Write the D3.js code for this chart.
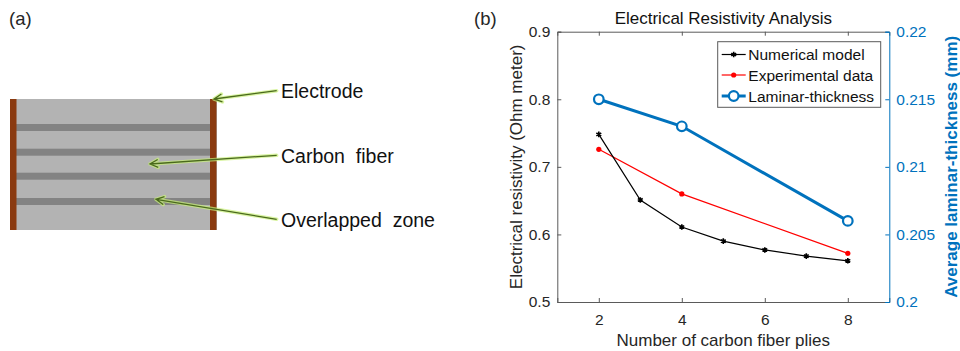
<!DOCTYPE html>
<meta charset="utf-8">
<html>
<head>
<style>
  body { margin: 0; background: #fff; }
  svg text { font-family: "Liberation Sans", Arial, sans-serif; }
</style>
</head>
<body>
<div id="chart"></div>
<script src="https://d3js.org/d3.v7.min.js"></script>
<script>
// data
var plies = [2, 3, 4, 5, 6, 7, 8];
var numerical = [0.748, 0.651, 0.611, 0.590, 0.577, 0.568, 0.561];
var expPlies = [2, 4, 8];
var experimental = [0.726, 0.660, 0.572];
var thickPlies = [2, 4, 8];
var thickness = [0.215, 0.213, 0.206];
var xTicks = [2, 4, 6, 8];
var yTicks = [0.5, 0.6, 0.7, 0.8, 0.9];
var y2Ticks = [0.2, 0.205, 0.21, 0.215, 0.22];
var legendNames = ["Numerical model", "Experimental data", "Laminar-thickness"];
var calloutNames = ["Electrode", "Carbon  fiber", "Overlapped  zone"];

var blue = "#0072BD", axisGray = "#5a5a5a", textCol = "#262626";

var svg = d3.select("#chart").append("svg")
  .attr("width", 960).attr("height", 351);

// ---------------- panel (a): schematic ----------------
svg.append("text").attr("x", 9).attr("y", 25).style("font-size", "18.5px")
  .attr("fill", textCol).text("(a)");

var pa = svg.append("g");
pa.append("rect").attr("x", 10).attr("y", 99).attr("width", 207).attr("height", 131)
  .attr("fill", "#b3b3b3");
// carbon fiber stripes
var stripeY = [124, 148.7, 172.7, 198];
pa.selectAll(".stripe").data(stripeY).enter().append("rect")
  .attr("x", 16).attr("y", function(d) { return d; })
  .attr("width", 194).attr("height", 7).attr("fill", "#838383");
// electrodes
pa.selectAll(".elec").data([10, 210]).enter().append("rect")
  .attr("x", function(d) { return d; }).attr("y", 99)
  .attr("width", 6.5).attr("height", 131).attr("fill", "#8a3a10");

// callouts with arrows
var callouts = [
  {from: [276.7, 90.7], to: [214, 99], ty: 98},
  {from: [276.7, 155.3], to: [150, 164], ty: 162.5},
  {from: [276.7, 219.3], to: [156, 199.3], ty: 226.5}
];
function arrowPath(c) {
  var dx = c.to[0] - c.from[0], dy = c.to[1] - c.from[1];
  var L = Math.sqrt(dx*dx + dy*dy), ux = dx/L, uy = dy/L;
  var h = 8, w = 4;
  var bx = c.to[0] - ux*h, by = c.to[1] - uy*h;
  return "M" + c.from + "L" + c.to +
    "M" + (bx - uy*w) + "," + (by + ux*w) + "L" + c.to + "L" + (bx + uy*w) + "," + (by - ux*w);
}
pa.selectAll(".glow").data(callouts).enter().append("path")
  .attr("d", arrowPath).attr("fill", "none")
  .attr("stroke", "#c9f07a").attr("stroke-width", 3.5).attr("stroke-opacity", 0.7)
  .attr("stroke-linejoin", "round").attr("stroke-linecap", "round");
pa.selectAll(".arr").data(callouts).enter().append("path")
  .attr("d", arrowPath).attr("fill", "none")
  .attr("stroke", "#4a6a1c").attr("stroke-width", 1.3);
pa.selectAll(".lab").data(callouts).enter().append("text")
  .attr("x", 281).attr("y", function(d) { return d.ty; })
  .style("font-size", "19.5px").attr("fill", "#111")
  .attr("xml:space", "preserve").style("white-space", "pre")
  .text(function(d, i) { return calloutNames[i]; });

// ---------------- panel (b): chart ----------------
svg.append("text").attr("x", 474).attr("y", 25).style("font-size", "18.5px")
  .attr("fill", textCol).text("(b)");

var L = 557.3, R = 889.3, T = 31.7, B = 302;
var x = d3.scaleLinear().domain([1, 9]).range([L, R]);
var y = d3.scaleLinear().domain([0.5, 0.9]).range([B, T]);
var y2 = d3.scaleLinear().domain([0.2, 0.22]).range([B, T]);

var g = svg.append("g");

// axes
g.append("g").attr("transform", "translate(0," + B + ")")
  .call(d3.axisBottom(x).tickValues(xTicks).tickSize(-4).tickPadding(12).tickFormat(d3.format("d")))
  .call(function(a) {
    a.select(".domain").attr("stroke", axisGray);
    a.selectAll("line").attr("stroke", axisGray);
    a.selectAll("text").attr("fill", textCol).style("font-size", "15.5px");
  });
g.append("g").attr("transform", "translate(0," + T + ")")
  .call(d3.axisTop(x).tickValues(xTicks).tickSize(-4).tickFormat(""))
  .call(function(a) {
    a.select(".domain").attr("stroke", axisGray);
    a.selectAll("line").attr("stroke", axisGray);
  });
g.append("g").attr("transform", "translate(" + L + ",0)")
  .call(d3.axisLeft(y).tickValues(yTicks).tickSize(-4).tickPadding(7).tickFormat(d3.format(".1f")))
  .call(function(a) {
    a.select(".domain").attr("stroke", axisGray);
    a.selectAll("line").attr("stroke", axisGray);
    a.selectAll("text").attr("fill", textCol).style("font-size", "15.5px");
  });
g.append("g").attr("transform", "translate(" + R + ",0)")
  .call(d3.axisRight(y2).tickValues(y2Ticks).tickSize(-4).tickPadding(7).tickFormat(function(d) { return d3.format("")(+d.toFixed(3)); }))
  .call(function(a) {
    a.select(".domain").attr("stroke", blue);
    a.selectAll("line").attr("stroke", blue);
    a.selectAll("text").attr("fill", blue).style("font-size", "15.5px");
  });

// title and axis labels
g.append("text").attr("x", (L + R) / 2).attr("y", 24).attr("text-anchor", "middle")
  .style("font-size", "17px").attr("fill", "#111").text("Electrical Resistivity Analysis");
g.append("text").attr("x", (L + R) / 2).attr("y", 345.5).attr("text-anchor", "middle")
  .style("font-size", "17px").attr("fill", textCol).text("Number of carbon fiber plies");
g.append("text").attr("transform", "translate(522," + (T + B) / 2 + ") rotate(-90)")
  .attr("text-anchor", "middle").style("font-size", "17px").attr("fill", textCol)
  .text("Electrical resistivity (Ohm meter)");
g.append("text").attr("transform", "translate(957," + (T + B) / 2 + ") rotate(-90)")
  .attr("text-anchor", "middle").style("font-size", "17px").style("font-weight", "bold")
  .attr("fill", blue).text("Average laminar-thickness (mm)");

// series
var line = d3.line();
var numPts = plies.map(function(p, i) { return [x(p), y(numerical[i])]; });
var expPts = expPlies.map(function(p, i) { return [x(p), y(experimental[i])]; });
var thkPts = thickPlies.map(function(p, i) { return [x(p), y2(thickness[i])]; });

g.append("path").attr("d", line(thkPts)).attr("fill", "none")
  .attr("stroke", blue).attr("stroke-width", 3);
g.append("path").attr("d", line(expPts)).attr("fill", "none")
  .attr("stroke", "#ff0000").attr("stroke-width", 1.2);
g.append("path").attr("d", line(numPts)).attr("fill", "none")
  .attr("stroke", "#000").attr("stroke-width", 1.2);

var aster = d3.symbol().type(d3.symbolAsterisk).size(22);
function drawStar(sel, pts) {
  sel.selectAll(null).data(pts).enter().append("path")
    .attr("d", aster).attr("transform", function(d) { return "translate(" + d + ")"; })
    .attr("fill", "none").attr("stroke", "#000").attr("stroke-width", 1.6);
}
function drawDot(sel, pts) {
  sel.selectAll(null).data(pts).enter().append("circle")
    .attr("cx", function(d) { return d[0]; }).attr("cy", function(d) { return d[1]; })
    .attr("r", 2.6).attr("fill", "#ff0000");
}
function drawRing(sel, pts) {
  sel.selectAll(null).data(pts).enter().append("circle")
    .attr("cx", function(d) { return d[0]; }).attr("cy", function(d) { return d[1]; })
    .attr("r", 4.8).attr("fill", "#fff").attr("stroke", blue).attr("stroke-width", 2.2);
}
drawRing(g, thkPts);
drawDot(g, expPts);
drawStar(g, numPts);

// legend
var lg = g.append("g");
lg.append("rect").attr("x", 717.7).attr("y", 41.7).attr("width", 163).attr("height", 65.6)
  .attr("fill", "#fff").attr("stroke", axisGray).attr("stroke-width", 1);
var rows = [54.5, 75, 96];
var lx0 = 721.7, lx1 = 745.7, lmid = (lx0 + lx1) / 2;
lg.append("line").attr("x1", lx0).attr("x2", lx1).attr("y1", rows[0]).attr("y2", rows[0])
  .attr("stroke", "#000").attr("stroke-width", 1.2);
drawStar(lg, [[lmid, rows[0]]]);
lg.append("line").attr("x1", lx0).attr("x2", lx1).attr("y1", rows[1]).attr("y2", rows[1])
  .attr("stroke", "#ff0000").attr("stroke-width", 1.2);
drawDot(lg, [[lmid, rows[1]]]);
lg.append("line").attr("x1", lx0).attr("x2", lx1).attr("y1", rows[2]).attr("y2", rows[2])
  .attr("stroke", blue).attr("stroke-width", 3);
drawRing(lg, [[lmid, rows[2]]]);
lg.selectAll(".lt").data(legendNames).enter().append("text")
  .attr("x", 748.3).attr("y", function(d, i) { return rows[i] + 5.5; })
  .style("font-size", "15.5px").attr("fill", "#111").text(function(d) { return d; });
</script>
</body>
</html>
